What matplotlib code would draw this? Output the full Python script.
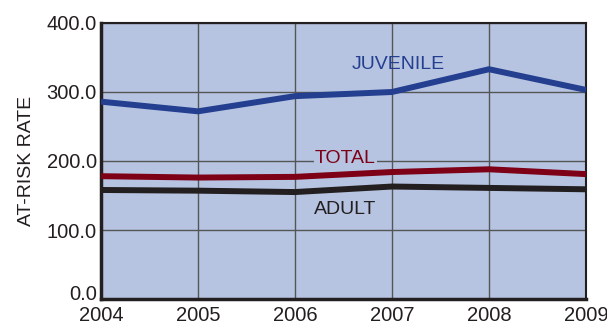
import matplotlib.pyplot as plt
import matplotlib.transforms as mtransforms

years = [2004, 2005, 2006, 2007, 2008, 2009]
juvenile = [286, 272, 294, 300, 333, 303]
total = [178, 176, 177, 184, 188, 181]
adult = [158, 157, 155, 163, 161, 159]
yticks = [0, 100, 200, 300, 400]

bg = '#b6c4e1'
c_juv = '#243f90'
c_tot = '#7d0016'
c_adu = '#231f20'

plt.rcParams['font.family'] = ['Liberation Sans', 'DejaVu Sans']

fig = plt.figure(figsize=(6.07, 3.24), dpi=100)
ax = fig.add_axes([101 / 607, 25 / 324, 485 / 607, 276 / 324])
ax.set_facecolor(bg)

ax.plot(years, juvenile, color=c_juv, lw=4.3, solid_capstyle='butt', zorder=3)
ax.plot(years, total, color=c_tot, lw=4.3, solid_capstyle='butt', zorder=3)
ax.plot(years, adult, color=c_adu, lw=4.3, solid_capstyle='butt', zorder=3)

ax.text(2007.06, 340, 'JUVENILE', color=c_juv, fontsize=14, ha='center', va='center')
ax.text(2006.52, 204, 'TOTAL', color=c_tot, fontsize=14, ha='center', va='center',
        bbox=dict(facecolor=bg, edgecolor='none', pad=1), zorder=4)
ax.text(2006.52, 129, 'ADULT', color=c_adu, fontsize=14, ha='center', va='center')

ax.set_xlim(2004, 2009)
ax.set_ylim(0, 400)
ax.set_xticks(years)
ax.set_yticks(yticks)
ax.set_yticklabels([f'{v:.1f}' for v in yticks])
ax.grid(True, color='#555555', lw=1)
ax.set_axisbelow(True)
ax.tick_params(length=0, labelsize=14.5, colors='#231f20')
ax.tick_params(axis='y', pad=3)
ax.tick_params(axis='x', pad=5)
ax.set_ylabel('AT-RISK RATE', fontsize=14, color='#231f20', labelpad=8)

# lift the 0.0 label a little off the x labels
lab0 = ax.get_yticklabels()[0]
lab0.set_transform(lab0.get_transform() + mtransforms.ScaledTranslation(0, 6 / 100, fig.dpi_scale_trans))

for side in ['left', 'bottom']:
    ax.spines[side].set_linewidth(2.5)
    ax.spines[side].set_color('#231f20')
for side in ['top', 'right']:
    ax.spines[side].set_linewidth(1.5)
    ax.spines[side].set_color('#231f20')

plt.savefig('out.png', dpi=100)
